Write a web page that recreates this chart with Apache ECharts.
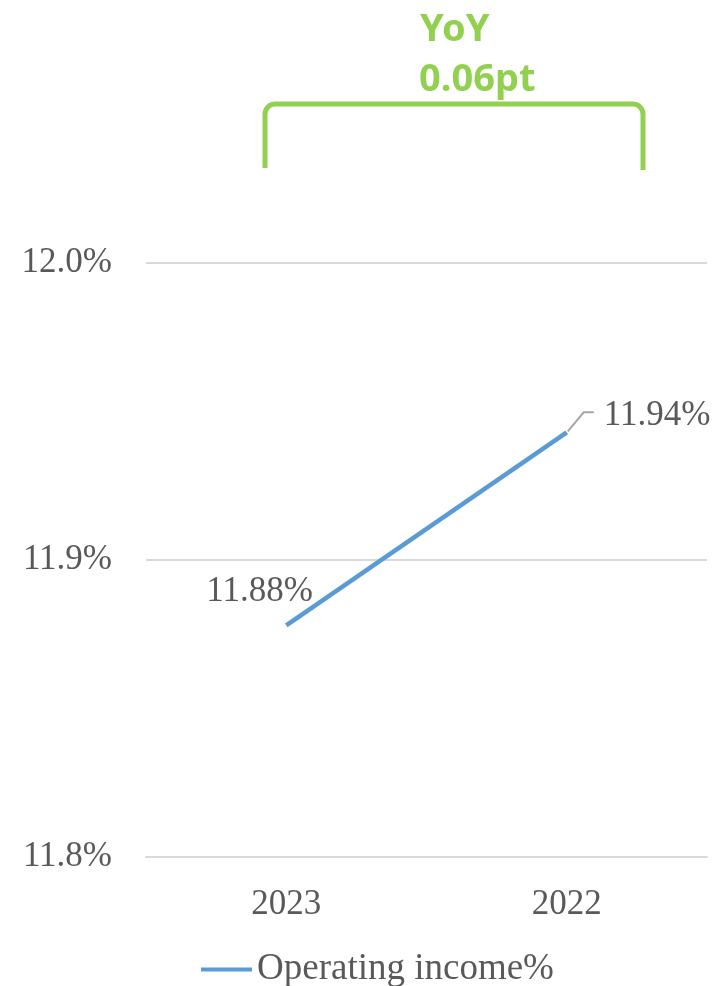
<!DOCTYPE html>
<html>
<head>
<meta charset="utf-8">
<script src="https://cdn.jsdelivr.net/npm/echarts@6/dist/echarts.min.js"></script>
<style>
  html, body { margin: 0; padding: 0; background: #fff; }
  #chart { width: 718px; height: 986px; }
</style>
</head>
<body>
<div id="chart"></div>
<script>
const years = ['2023', '2022']
const operatingIncome = [11.878, 11.943]
const yTicks = { min: 11.8, max: 12.0, step: 0.1 }
const yoyLines = ['YoY', '0.06pt']

const serif = '"Liberation Serif", "Times New Roman", serif'
const textGrey = '#595959'
const green = '#92D050'

const chart = echarts.init(document.getElementById('chart'))

const option = {
  backgroundColor: '#fff',
  animation: false,
  grid: { left: 146, right: 11, top: 263, bottom: 129 },
  legend: {
    left: 196,
    top: 946,
    icon: 'rect',
    itemWidth: 51,
    itemHeight: 4,
    itemGap: 5,
    textStyle: { fontFamily: serif, fontSize: 37, color: textGrey },
    data: ['Operating income%'],
  },
  xAxis: {
    type: 'category',
    data: years,
    axisTick: { show: false },
    axisLine: { lineStyle: { color: '#D9D9D9', width: 2 } },
    axisLabel: { fontFamily: serif, fontSize: 35, color: textGrey, margin: 30 },
  },
  yAxis: {
    type: 'value',
    min: yTicks.min,
    max: yTicks.max,
    interval: yTicks.step,
    axisLine: { show: false },
    axisTick: { show: false },
    axisLabel: {
      fontFamily: serif,
      fontSize: 35,
      color: textGrey,
      margin: 34,
      formatter: (v) => v.toFixed(1) + '%',
    },
    splitLine: { lineStyle: { color: '#D9D9D9', width: 2 } },
  },
  series: [
    {
      name: 'Operating income%',
      type: 'line',
      data: operatingIncome,
      showSymbol: true,
      symbol: 'circle',
      symbolSize: 0.1,
      color: '#5B9BD5',
      itemStyle: { color: '#5B9BD5' },
      lineStyle: { width: 4.5, color: '#5B9BD5' },
      label: {
        show: true,
        fontFamily: serif,
        fontSize: 35,
        color: textGrey,
        formatter: (p) => p.value.toFixed(2) + '%',
        position: 'right',
      },
      labelLayout: (params) => {
        if (params.dataIndex === 0) {
          return { dx: -85, dy: -34 }
        }
        return { dx: 32, dy: -16 }
      },
    },
  ],
  graphic: [
    {
      type: 'text',
      left: 420,
      top: 11,
      style: {
        text: yoyLines[0],
        font: 'bold 38px "Noto Sans", "Open Sans", sans-serif',
        fill: green,
      },
    },
    {
      type: 'text',
      left: 419,
      top: 61,
      style: {
        text: yoyLines[1],
        font: 'bold 38px "Noto Sans", "Open Sans", sans-serif',
        fill: green,
      },
    },
    // bracket
    {
      type: 'line',
      shape: { x1: 265, y1: 168, x2: 265, y2: 114 },
      style: { stroke: green, lineWidth: 5 },
    },
    {
      type: 'arc',
      shape: { cx: 275, cy: 114, r: 10, startAngle: Math.PI, endAngle: Math.PI * 1.5 },
      style: { stroke: green, lineWidth: 5, fill: null },
    },
    {
      type: 'line',
      shape: { x1: 275, y1: 104, x2: 633, y2: 104 },
      style: { stroke: green, lineWidth: 5 },
    },
    {
      type: 'arc',
      shape: { cx: 633, cy: 114, r: 10, startAngle: Math.PI * 1.5, endAngle: Math.PI * 2 },
      style: { stroke: green, lineWidth: 5, fill: null },
    },
    {
      type: 'line',
      shape: { x1: 643, y1: 114, x2: 643, y2: 170 },
      style: { stroke: green, lineWidth: 5 },
    },
  ],
}

chart.setOption(option)

// leader line for the 2022 label, anchored at the data point
const last = operatingIncome.length - 1
const pt = chart.convertToPixel({ seriesIndex: 0 }, [last, operatingIncome[last]])
chart.setOption({
  graphic: option.graphic.concat([
    {
      type: 'polyline',
      shape: { points: [[pt[0] + 1, pt[1] - 1], [pt[0] + 17, pt[1] - 20], [pt[0] + 27, pt[1] - 20]] },
      style: { stroke: '#A6A6A6', lineWidth: 2, fill: null },
    },
  ]),
})
</script>
</body>
</html>
